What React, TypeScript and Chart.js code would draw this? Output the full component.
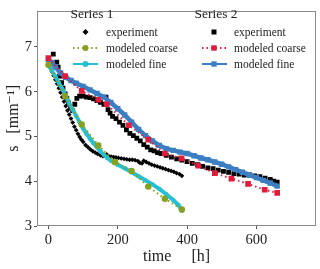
import React, { useEffect, useRef } from "react";
import { Chart, registerables } from "chart.js";
Chart.register(...registerables);

const FONT = "'Liberation Serif', 'DejaVu Serif', serif";

const seriesTitles = ["Series 1", "Series 2"];
const legendLabels = ["experiment", "modeled coarse", "modeled fine"];

const xTicks = [0, 200, 400, 600];
const yTicks = [3, 4, 5, 6, 7];

// Series 1 experiment (diamonds)
const s1ExpT = [0, 5, 10, 15, 20, 25, 30, 35, 40, 45, 50, 55, 60, 65, 70, 75, 80, 85, 90, 95, 100, 107, 114, 121, 128, 135, 142, 150, 157, 163, 168, 174, 181, 188, 195, 202, 210, 218, 226, 234, 242, 250, 258, 264, 270, 275, 282, 290, 298, 306, 314, 322, 330, 338, 346, 354, 362, 370, 378, 385];
const s1ExpS = [6.62, 6.54, 6.45, 6.36, 6.27, 6.18, 6.08, 5.98, 5.88, 5.78, 5.68, 5.58, 5.49, 5.4, 5.31, 5.22, 5.14, 5.06, 4.99, 4.93, 4.88, 4.81, 4.76, 4.71, 4.67, 4.64, 4.61, 4.58, 4.56, 4.58, 4.6, 4.56, 4.55, 4.54, 4.53, 4.52, 4.51, 4.5, 4.49, 4.48, 4.48, 4.47, 4.45, 4.41, 4.4, 4.46, 4.43, 4.4, 4.37, 4.35, 4.33, 4.31, 4.29, 4.27, 4.25, 4.23, 4.21, 4.18, 4.16, 4.12];

// Series 1 modeled coarse
const s1CoarseT = [0, 48, 96, 144, 192, 240, 288, 336, 385];
const s1CoarseS = [6.6, 5.9, 5.27, 4.8, 4.43, 4.23, 3.88, 3.61, 3.37];

// Series 1 modeled fine
const s1FineT = [0, 10, 20, 30, 40, 50, 60, 70, 80, 90, 100, 110, 120, 130, 140, 150, 160, 170, 180, 190, 200, 220, 240, 260, 280, 300, 320, 340, 360, 375, 385];
const s1FineS = [6.6, 6.47, 6.34, 6.2, 6.06, 5.9, 5.74, 5.6, 5.46, 5.32, 5.18, 5.06, 4.95, 4.85, 4.76, 4.67, 4.59, 4.52, 4.46, 4.41, 4.37, 4.29, 4.2, 4.11, 4.02, 3.93, 3.83, 3.71, 3.58, 3.47, 3.34];

// Series 2 experiment (squares)
const s2ExpT = [14, 24, 28, 32, 38, 42, 48, 53, 58, 64, 70, 76, 82, 90, 100, 110, 120, 130, 140, 150, 160, 166, 172, 178, 185, 195, 205, 215, 225, 235, 245, 255, 265, 275, 285, 295, 305, 315, 325, 340, 355, 370, 385, 400, 415, 430, 445, 460, 475, 490, 505, 520, 535, 550, 565, 580, 595, 610, 625, 640, 650, 660];
const s2ExpS = [6.84, 6.66, 6.55, 6.35, 6.2, 6.08, 5.95, 5.85, 5.75, 5.65, 5.58, 5.72, 5.85, 5.9, 5.9, 5.88, 5.87, 5.84, 5.8, 5.76, 5.72, 5.88, 5.6, 5.52, 5.45, 5.4, 5.32, 5.25, 5.15, 5.07, 5.02, 4.96, 4.9, 4.82, 4.76, 4.7, 4.68, 4.64, 4.62, 4.58, 4.54, 4.5, 4.47, 4.44, 4.4, 4.37, 4.33, 4.3, 4.28, 4.25, 4.22, 4.2, 4.17, 4.16, 4.14, 4.14, 4.12, 4.1, 4.07, 4.04, 4.0, 3.98];

// Series 2 modeled coarse
const s2CoarseT = [0, 48, 96, 144, 168, 232, 288, 336, 384, 432, 480, 528, 576, 624, 660];
const s2CoarseS = [6.75, 6.35, 6.02, 5.82, 5.72, 5.25, 4.93, 4.62, 4.51, 4.35, 4.18, 4.06, 3.94, 3.81, 3.74];

// Series 2 modeled fine
const s2FineT = [0, 10, 20, 35, 50, 65, 80, 100, 120, 140, 160, 180, 200, 220, 240, 260, 280, 300, 320, 340, 360, 380, 400, 420, 440, 460, 480, 500, 520, 540, 560, 580, 600, 620, 640, 660];
const s2FineS = [6.72, 6.65, 6.55, 6.42, 6.32, 6.25, 6.19, 6.12, 6.04, 5.96, 5.88, 5.76, 5.62, 5.48, 5.32, 5.16, 5.02, 4.9, 4.8, 4.73, 4.69, 4.65, 4.62, 4.57, 4.52, 4.48, 4.43, 4.38, 4.32, 4.26, 4.2, 4.14, 4.08, 4.02, 3.96, 3.89];

const BLACK = "#000000";
const GREEN = "#86a11f";
const CYAN = "#27c0d3";
const RED = "#e21b3d";
const BLUE = "#3b7ec2";

const pts = (t: number[], s: number[]) => t.map((v, i) => ({ x: v, y: s[i] }));

function drawMarker(ctx: CanvasRenderingContext2D, kind: string, x: number, y: number, r: number, color: string) {
  ctx.fillStyle = color;
  ctx.beginPath();
  if (kind === "diamond") {
    ctx.moveTo(x, y - r);
    ctx.lineTo(x + r, y);
    ctx.lineTo(x, y + r);
    ctx.lineTo(x - r, y);
    ctx.closePath();
  } else if (kind === "square") {
    ctx.rect(x - r, y - r, 2 * r, 2 * r);
  } else {
    ctx.arc(x, y, r, 0, Math.PI * 2);
  }
  ctx.fill();
}

const legendPlugin = {
  id: "customLegend",
  afterDraw(chart: any) {
    const ctx: CanvasRenderingContext2D = chart.ctx;
    ctx.save();
    ctx.textBaseline = "middle";
    const cols = [
      { title: 92, lx0: 73, lx1: 98, mx: 85.5, tx: 106, exp: "diamond", colors: [BLACK, GREEN, CYAN], fine: "circle" },
      { title: 216, lx0: 202, lx1: 227, mx: 214, tx: 234, exp: "square", colors: [BLACK, RED, BLUE], fine: "square" },
    ];
    const rows = [32, 48, 64];
    cols.forEach((c, ci) => {
      ctx.fillStyle = "#222";
      ctx.textAlign = "center";
      ctx.font = `13.5px ${FONT}`;
      ctx.fillText(seriesTitles[ci], c.title, 14);
      drawMarker(ctx, c.exp, c.mx, rows[0], c.exp === "diamond" ? 3 : 2.5, c.colors[0]);
      ctx.strokeStyle = c.colors[1];
      ctx.lineWidth = 2;
      ctx.setLineDash([1.5, 3]);
      ctx.beginPath();
      ctx.moveTo(c.lx0, rows[1]);
      ctx.lineTo(c.lx1, rows[1]);
      ctx.stroke();
      ctx.setLineDash([]);
      drawMarker(ctx, ci === 0 ? "circle" : "square", c.mx, rows[1], ci === 0 ? 3 : 2.7, c.colors[1]);
      ctx.strokeStyle = c.colors[2];
      ctx.lineWidth = 2;
      ctx.beginPath();
      ctx.moveTo(c.lx0, rows[2]);
      ctx.lineTo(c.lx1, rows[2]);
      ctx.stroke();
      drawMarker(ctx, c.fine, c.mx, rows[2], c.fine === "circle" ? 3 : 2.7, c.colors[2]);
      ctx.fillStyle = "#222";
      ctx.textAlign = "left";
      ctx.font = `11.5px ${FONT}`;
      legendLabels.forEach((l, li) => ctx.fillText(l, c.tx, rows[li] + 0.5));
    });
    ctx.restore();
  },
};

const framePlugin = {
  id: "frame",
  afterDatasetsDraw(chart: any) {
    const { ctx, chartArea } = chart;
    ctx.save();
    ctx.strokeStyle = "#8a8a8a";
    ctx.lineWidth = 1;
    ctx.strokeRect(Math.round(chartArea.left) + 0.5, Math.round(chartArea.top) + 0.5, Math.round(chartArea.right - chartArea.left) - 1, Math.round(chartArea.bottom - chartArea.top) - 1);
    ctx.restore();
  },
};

export default function App() {
  const ref = useRef<HTMLCanvasElement | null>(null);
  useEffect(() => {
    if (!ref.current) return;
    const chart = new Chart(ref.current, {
      type: "line",
      data: {
        datasets: [
          { label: "S1 experiment", data: pts(s1ExpT, s1ExpS), showLine: false, pointStyle: "rectRot", pointRadius: 2.4, backgroundColor: BLACK, borderColor: BLACK, pointBorderWidth: 0, order: 3 },
          { label: "S2 experiment", data: pts(s2ExpT, s2ExpS), showLine: false, pointStyle: "rect", pointRadius: 3.4, backgroundColor: BLACK, borderColor: BLACK, pointBorderWidth: 0, order: 3 },
          { label: "S1 fine", data: pts(s1FineT, s1FineS), borderColor: CYAN, backgroundColor: CYAN, borderWidth: 4, pointStyle: "circle", pointRadius: 2.2, pointBorderWidth: 0, tension: 0, order: 2 },
          { label: "S2 fine", data: pts(s2FineT, s2FineS), borderColor: BLUE, backgroundColor: BLUE, borderWidth: 4.5, pointStyle: "rect", pointRadius: 3.8, pointBorderWidth: 0, tension: 0, order: 2 },
          { label: "S1 coarse", data: pts(s1CoarseT, s1CoarseS), borderColor: GREEN, backgroundColor: GREEN, borderWidth: 2, borderDash: [1.5, 3], pointStyle: "circle", pointRadius: 3.2, pointBorderWidth: 0, tension: 0, order: 1 },
          { label: "S2 coarse", data: pts(s2CoarseT, s2CoarseS), borderColor: RED, backgroundColor: RED, borderWidth: 2, borderDash: [1.5, 3], pointStyle: "rect", pointRadius: 4, pointBorderWidth: 0, tension: 0, order: 1 },
        ],
      },
      options: {
        animation: false,
        responsive: false,
        maintainAspectRatio: false,
        layout: { padding: { left: 0, right: 3, top: 3, bottom: 0 } },
        plugins: { legend: { display: false }, tooltip: { enabled: false } },
        scales: {
          x: {
            type: "linear",
            min: -33,
            max: 772,
            afterBuildTicks: (s: any) => { s.ticks = xTicks.map((v) => ({ value: v })); },
            afterFit: (s: any) => { s.height = 43; },
            grid: { drawOnChartArea: false, drawTicks: true, tickLength: 3, color: "#555" },
            border: { display: false },
            ticks: { font: { family: FONT, size: 14.5 }, color: "#222", padding: 2, maxRotation: 0 },
            title: { display: true, text: "time     [h]", font: { family: FONT, size: 16 }, color: "#222", padding: { top: 0, bottom: 3 } },
          },
          y: {
            type: "linear",
            min: 3,
            max: 7.81,
            afterBuildTicks: (s: any) => { s.ticks = yTicks.map((v) => ({ value: v })); },
            afterFit: (s: any) => { s.width = 37; },
            grid: { drawOnChartArea: false, drawTicks: true, tickLength: 3, color: "#555" },
            border: { display: false },
            ticks: { font: { family: FONT, size: 14.5 }, color: "#222", padding: 2 },
            title: { display: true, text: "s   [mm⁻¹]", font: { family: FONT, size: 16 }, color: "#222", padding: { top: 4, bottom: 0 } },
          },
        },
      },
      plugins: [framePlugin, legendPlugin],
    } as any);
    return () => chart.destroy();
  }, []);
  return (
    <div style={{ position: "fixed", left: 0, top: 0, width: 320, height: 269, background: "#fff" }}>
      <canvas ref={ref} width={320} height={269} style={{ display: "block" }} />
    </div>
  );
}
